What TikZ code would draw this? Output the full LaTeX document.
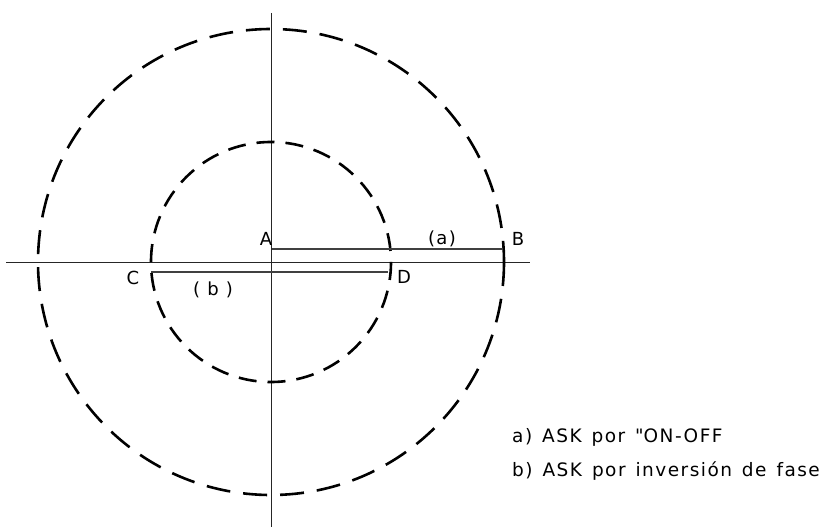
\documentclass[tikz,border=0pt]{standalone}
\usepackage{fontspec}
\setmainfont{DejaVu Sans}[LetterSpace=8]
\newfontfamily\legfont{DejaVu Sans}[LetterSpace=8,WordSpace=1.35]
\begin{document}
\begin{tikzpicture}[x=1pt,y=-1pt,
  axis/.style={line width=0.9pt,black!85},
  seg/.style={line width=1.1pt,black!75},
  outerc/.style={line width=2.6pt,dash pattern=on 24pt off 13pt},
  innerc/.style={line width=2.6pt,dash pattern=on 18pt off 11pt},
  lbl/.style={inner sep=0pt,font=\fontsize{18}{20}\selectfont},
  leg/.style={inner sep=0pt,anchor=west,font=\legfont\fontsize{18.5}{20}\selectfont}]
\useasboundingbox (0,0) rectangle (831,527);
\coordinate (O) at (271,262);
\coordinate (Vt) at (271,13);
\coordinate (Vb) at (271,527);
\coordinate (Hl) at (6,262);
\coordinate (Hr) at (530,262);
\draw[axis] (Vt) -- (Vb);
\draw[axis] (Hl) -- (Hr);
\draw[outerc] (O) circle (233);
\draw[innerc] (O) circle (120);
\coordinate (pA) at (272,249);
\coordinate (pB) at (503,249);
\coordinate (pC) at (151,272);
\coordinate (pD) at (388,272);
\draw[seg] (pA) -- (pB);
\draw[seg] (pC) -- (pD);
\node[lbl] (A) at (266,239) {A};
\node[lbl] (B) at (518,239) {B};
\node[lbl] (a) at (442,239) {(a)};
\node[lbl] (C) at (133,278) {C};
\node[lbl] (D) at (404,277) {D};
\node[lbl] (b) at (213,290) {( b )};
\node[leg] (la) at (512,437) {a) ASK por \textquotedbl ON-OFF};
\node[leg] (lb) at (512,471) {b) ASK por inversión de fase};
\end{tikzpicture}
\end{document}
